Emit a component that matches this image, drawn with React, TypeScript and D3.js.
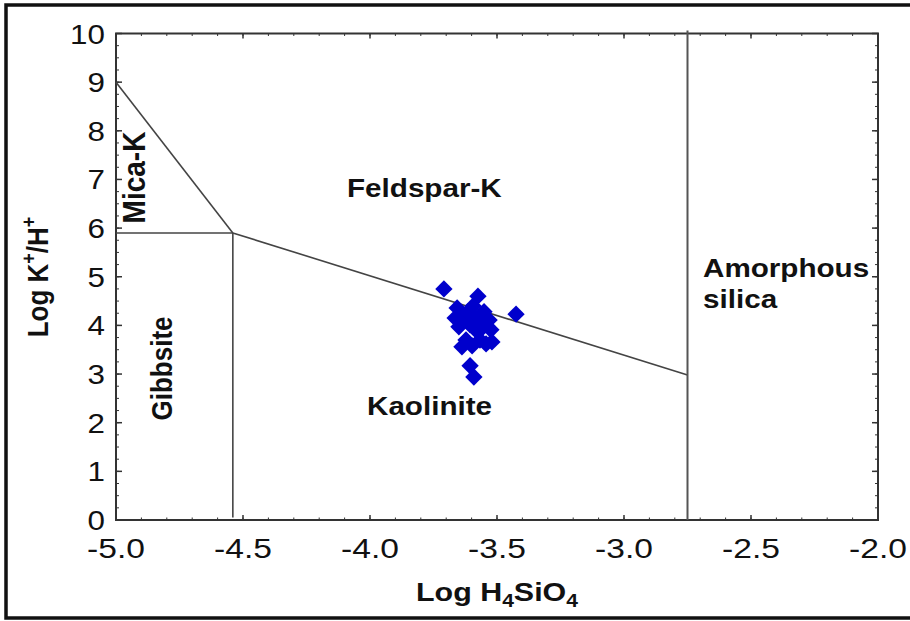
import React from "react";
import * as d3 from "d3";

// stability diagram boundaries (Log H4SiO4, Log K+/H+)
const micaFeldspar: [number, number][] = [[-5, 9], [-4.54, 5.9]];
const gibbsiteMica: [number, number][] = [[-5, 5.9], [-4.54, 5.9]];
const gibbsiteKaolinite: [number, number][] = [[-4.54, 5.9], [-4.54, 0.05]];
const feldsparKaolinite: [number, number][] = [[-4.54, 5.9], [-2.75, 2.98]];
const amorphousSilica: [number, number][] = [[-2.75, 10.06], [-2.75, 0]];

// water samples
const sampleX = [
  -3.709, -3.575, -3.425, -3.657, -3.638, -3.65, -3.614, -3.583, -3.551, -3.531,
  -3.524, -3.606, -3.575, -3.622, -3.638, -3.567, -3.52, -3.598, -3.606, -3.591,
  -3.559, -3.594, -3.543, -3.665,
];
const sampleY = [
  4.75, 4.6, 4.23, 4.36, 4.15, 3.97, 4.28, 4.15, 4.28, 4.11,
  3.91, 4.01, 3.86, 3.7, 3.56, 3.7, 3.66, 3.58, 3.17, 2.94,
  4.03, 4.4, 3.62, 4.15,
];

const xTicks = [-5.0, -4.5, -4.0, -3.5, -3.0, -2.5, -2.0];
const yTicks = [0, 1, 2, 3, 4, 5, 6, 7, 8, 9, 10];

const W = 910, H = 621;
const left = 116, right = 878, top = 33.5, bottom = 520;
const FONT = "'Liberation Sans', Arial, sans-serif";

const x = d3.scaleLinear().domain([-5, -2]).range([left, right]);
const y = d3.scaleLinear().domain([0, 10]).range([bottom, top]);
const line = d3.line<[number, number]>().x((d) => x(d[0])).y((d) => y(d[1]));

const xMinor = d3.range(-5, -1.999, 0.1);
const yMinor = d3.range(0, 10.001, 0.25);

// horizontal text stretched a little, as in the original picture
const Label = ({ px, py, sx = 1.14, size = 26, anchor = "start", rot = 0, children }: any) => (
  <g transform={`translate(${px},${py}) scale(${sx},1) rotate(${rot})`}>
    <text fontFamily={FONT} fontSize={size} fontWeight="bold" textAnchor={anchor} fill="#111">
      {children}
    </text>
  </g>
);

const App = () => {
  const diamond = d3.symbol(d3.symbolSquare, 150)()!;
  const axisColor = "#333";

  return (
    <svg width={W} height={H} style={{ position: "absolute", left: 0, top: 0, background: "#fff" }}>
      {/* outer frame */}
      <rect x={6} y={5} width={W + 10} height={613} fill="none" stroke="#111" strokeWidth={3.5} />

      {/* minor ticks */}
      {xMinor.map((v, i) => (
        <g key={"xm" + i} stroke={axisColor} strokeWidth={1}>
          <line x1={x(v)} x2={x(v)} y1={bottom} y2={bottom - 2.5} />
          <line x1={x(v)} x2={x(v)} y1={top} y2={top + 2.5} />
        </g>
      ))}
      {yMinor.map((v, i) => (
        <g key={"ym" + i} stroke={axisColor} strokeWidth={1}>
          <line x1={left} x2={left + 3} y1={y(v)} y2={y(v)} />
          <line x1={right} x2={right - 3} y1={y(v)} y2={y(v)} />
        </g>
      ))}
      {/* major ticks */}
      {xTicks.map((v) => (
        <g key={"xM" + v} stroke={axisColor} strokeWidth={1.5}>
          <line x1={x(v)} x2={x(v)} y1={bottom} y2={bottom - 5} />
          <line x1={x(v)} x2={x(v)} y1={top} y2={top + 5} />
        </g>
      ))}
      {yTicks.map((v) => (
        <g key={"yM" + v} stroke={axisColor} strokeWidth={1.5}>
          <line x1={left} x2={left + 6} y1={y(v)} y2={y(v)} />
          <line x1={right} x2={right - 6} y1={y(v)} y2={y(v)} />
        </g>
      ))}

      {/* plot frame */}
      <rect x={left} y={top} width={right - left} height={bottom - top} fill="none" stroke={axisColor} strokeWidth={2} />

      {/* tick labels */}
      {xTicks.map((v) => (
        <g key={"xl" + v} transform={`translate(${x(v)},${558}) scale(1.2,1)`}>
          <text fontFamily={FONT} fontSize={28} textAnchor="middle" fill="#111">
            {d3.format(".1f")(v).replace("−", "-")}
          </text>
        </g>
      ))}
      {yTicks.map((v) => (
        <g key={"yl" + v} transform={`translate(${105},${y(v) + 10}) scale(1.12,1)`}>
          <text fontFamily={FONT} fontSize={28} textAnchor="end" fill="#111">
            {v}
          </text>
        </g>
      ))}

      {/* boundaries */}
      <g fill="none" stroke="#444" strokeWidth={1.6}>
        <path d={line(micaFeldspar)!} />
        <path d={line(gibbsiteMica)!} />
        <path d={line(gibbsiteKaolinite)!} />
        <path d={line(feldsparKaolinite)!} />
        <path d={line(amorphousSilica)!} stroke="#555" strokeWidth={2} />
      </g>

      {/* samples */}
      {sampleX.map((v, i) => (
        <path key={"p" + i} d={diamond} fill="#0000cc"
          transform={`translate(${x(v)},${y(sampleY[i])}) rotate(45)`} />
      ))}

      {/* field labels */}
      <Label px={347} py={197}>Feldspar-K</Label>
      <Label px={367} py={415}>Kaolinite</Label>
      <Label px={703} py={277}>Amorphous</Label>
      <Label px={703} py={308}>silica</Label>
      <Label px={145} py={177.5} sx={1.12} size={28} anchor="middle" rot={-90}>Mica-K</Label>
      <Label px={172} py={368.5} sx={1.1} size={26} anchor="middle" rot={-90}>Gibbsite</Label>

      {/* axis titles */}
      <Label px={497} py={601} sx={1.17}>
        <tspan textAnchor="middle">
          Log H<tspan fontSize={18} dy={6}>4</tspan>
          <tspan dy={-6}>SiO</tspan>
          <tspan fontSize={18} dy={6}>4</tspan>
        </tspan>
      </Label>
      <Label px={48} py={277} sx={1.1} size={26} anchor="middle" rot={-90}>
        Log K<tspan fontSize={18} dy={-11}>+</tspan>
        <tspan dy={11}>/H</tspan>
        <tspan fontSize={18} dy={-11}>+</tspan>
      </Label>
    </svg>
  );
};

export default App;
